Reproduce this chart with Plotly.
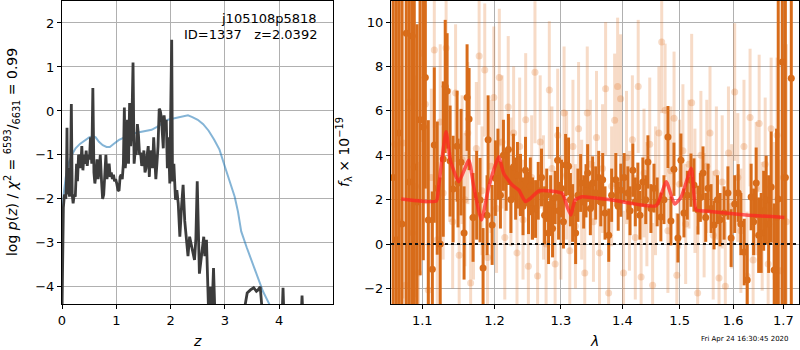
import plotly.graph_objects as go

# ---------------- left panel: p(z) ----------------
z_pz = [0.000,0.010,0.025,0.045,0.070,0.082,0.092,0.102,0.118,0.138,0.155,0.172,0.188,0.205,0.225,0.245,0.268,0.285,0.305,0.325,
        0.345,0.365,0.385,0.405,0.425,0.445,0.465,0.485,0.505,0.525,0.548,0.568,0.588,0.605,0.625,0.645,0.665,0.685,0.705,0.728,
        0.748,0.768,0.788,0.808,0.828,0.848,0.868,0.888,0.908,0.928,0.948,0.968,0.988,1.008,1.03,1.05,1.07,1.09,1.11,1.13,
        1.148,1.165,1.185,1.205,1.225,1.245,1.265,1.285,1.308,1.328,1.348,1.368,1.388,1.408,1.428,1.448,1.468,1.488,1.508,1.528,
        1.548,1.568,1.588,1.608,1.628,1.648,1.668,1.688,1.708,1.728,1.748,1.768,1.79,1.81,1.83,1.85,1.865,1.88,1.90,1.92,
        1.94,1.96,1.985,2.005,2.02,2.035,2.06,2.09,2.115,2.14,2.17,2.20,2.23,2.26,2.29,2.32,2.35,2.39,2.44,2.465,
        2.49,2.53,2.57,2.61,2.63,2.66,2.70,2.73,2.76,2.79,2.82,2.9,3.1,3.3,3.36,3.41,3.47,3.53,3.58,3.61,
        3.65,3.69,3.8,4.0,4.055,4.07,4.085,4.2,4.4,4.42,4.44,4.6]
logp = [-4.6,-3.0,-2.2,-1.9,-2.0,-1.6,-0.38,-1.9,-1.3,-1.95,-1.5,0.16,-1.9,-2.1,-1.9,-1.95,-1.2,-1.6,-1.0,-1.05,
        -1.3,-0.8,-1.35,-1.0,-1.2,-0.9,-1.25,-1.0,-1.1,-0.6,-1.2,0.52,-1.4,-1.65,-1.45,-1.1,-1.55,-1.35,-1.0,-1.6,
        -2.0,-1.9,-1.5,-1.0,-1.55,-1.3,-1.2,-1.5,-1.4,-1.55,-1.45,-1.6,-1.55,-1.65,-1.8,-1.82,-1.5,-1.45,-1.55,-1.2,
        0.08,-1.3,-1.0,-0.2,-1.2,0.18,-0.8,-0.4,1.1,-1.2,-0.9,-1.0,-0.3,-0.55,-1.0,-0.95,-1.25,-1.1,-0.9,-1.4,
        -1.3,-1.0,-0.8,-1.5,-0.9,-1.1,-1.3,-0.6,-1.0,-1.55,-1.2,-0.8,0.05,0.0,-0.15,-0.7,-0.85,-0.1,-0.35,-0.2,
        -1.3,-0.6,-1.65,0.3,1.62,-1.6,-1.2,-2.02,-1.8,-2.1,-2.86,-2.2,-1.68,-2.5,-2.9,-3.3,-2.86,-3.1,-3.39,-2.9,
        -1.6,-3.7,-3.2,-2.86,-3.3,-2.93,-4.6,-4.0,-4.6,-3.57,-4.8,-5.2,-5.5,-5.0,-4.5,-4.14,-4.07,-4.02,-4.1,-4.07,
        -4.0,-4.6,-5.2,-5.0,-4.6,-4.02,-4.6,-5.0,-4.8,-4.2,-4.8,-5.5]

z_prior = [0.0,0.03,0.07,0.12,0.18,0.25,0.33,0.42,0.5,0.57,0.62,0.68,0.75,0.82,0.88,0.95,1.05,1.15,1.25,1.35,
           1.45,1.55,1.65,1.75,1.85,1.95,2.05,2.15,2.25,2.32,2.4,2.5,2.6,2.7,2.8,2.9,3.0,3.1,3.18,3.24,
           3.3,3.4,3.5,3.6,3.7,3.82,3.9]
logp_prior = [-2.5,-1.9,-1.5,-1.2,-1.0,-0.85,-0.75,-0.68,-0.6,-0.57,-0.6,-0.7,-0.78,-0.82,-0.82,-0.75,-0.66,-0.6,-0.54,-0.5,
              -0.48,-0.46,-0.43,-0.36,-0.28,-0.2,-0.17,-0.14,-0.11,-0.1,-0.14,-0.2,-0.3,-0.45,-0.65,-0.88,-1.27,-1.62,-1.95,-2.29,
              -2.74,-3.1,-3.45,-3.8,-4.1,-4.4,-4.65]

# ---------------- right panel: spectrum ----------------
lam_dark = [1.062,1.066,1.0695,1.0733,1.079,1.0829,1.0868,1.0894,1.093,1.097,1.1013,1.1040,1.1080,1.1134,1.1160,1.1200,1.1240,1.1281,1.1308,1.1334,
            1.1375,1.1416,1.1471,1.1484,1.1526,1.1568,1.1610,1.1638,1.1694,1.1745,1.1793,1.1836,1.1893,1.1908,1.1966,1.2013,1.2050,1.2086,1.2130,1.2170,
            1.2203,1.2240,1.2277,1.2310,1.2337,1.2382,1.2420,1.2457,1.2502,1.2530,1.2563,1.2609,1.2650,1.2700,1.2747,1.2780,1.2808,1.2840,1.2870,1.2910,
            1.2948,1.2964,1.3010,1.3040,1.3074,1.3121,1.3150,1.3185,1.3233,1.3270,1.3313,1.3362,1.3400,1.3426,1.3470,1.3507,1.3557,1.3606,1.3640,1.3672,
            1.3710,1.3772,1.3820,1.3890,1.3930,1.3973,1.4030,1.4093,1.4130,1.4178,1.4220,1.4264,1.4300,1.4350,1.4400,1.4438,1.4490,1.4544,1.4600,1.4665,
            1.4720,1.4791,1.4844,1.4898,1.4970,1.5024,1.5079,1.5140,1.5207,1.5262,1.5336,1.5380,1.5429,1.5480,1.5523,1.5580,1.5636,1.5700,1.5750,1.5827,
            1.5900,1.5961,1.6030,1.6098,1.6150,1.6215,1.6274,1.6351,1.6400,1.6451,1.6500,1.6550,1.6600,1.6650,1.6700,1.6751,1.6812,1.6860,1.6894,1.6976,
            1.7040,1.7162]
f_dark = [3.0,0.2,5.0,0.9,9.5,2.8,9.37,3.47,1.9,5.6,5.27,7.5,1.08,-1.13,4.46,2.52,0.0,3.83,7.1,6.9,
          3.74,2.48,4.41,2.75,3.69,0.5,6.6,5.63,1.2,2.2,1.98,-1.08,1.3,4.7,0.86,2.97,3.6,2.2,4.0,2.9,
          4.26,2.0,3.47,2.5,3.1,2.66,1.7,3.33,1.85,2.6,1.6,1.58,2.4,3.0,1.3,2.2,0.5,1.8,0.7,2.1,
          3.78,1.5,2.5,1.0,3.56,3.5,2.0,1.4,0.5,2.2,2.75,1.9,2.4,3.2,1.6,2.75,2.3,3.0,1.9,2.9,
          1.4,0.4,2.2,2.9,1.7,2.43,3.0,2.3,1.5,3.33,1.9,2.57,1.3,2.8,2.0,3.7,1.6,2.52,1.9,1.22,
          2.0,4.82,1.04,3.37,0.27,3.78,1.4,2.2,2.88,2.66,1.53,2.1,3.2,1.2,2.52,1.6,0.86,2.0,1.1,1.4,
          2.3,0.27,1.8,2.3,0.9,-0.36,-1.62,2.12,1.0,2.75,0.4,0.5,1.5,1.98,0.9,2.57,-1.17,1.2,2.03,8.2,
          3.0,7.47]
e_dark = [25,25,25,25,20,20,15,15,8,7,6,5,4.5,3.5,3.5,3,3,3.5,3,2.6,
          2.5,2.4,2.5,2.0,2.4,2.1,2.4,2.3,2.0,2.0,1.9,1.8,1.8,2.0,1.8,1.7,1.6,1.5,1.6,1.4,
          1.6,1.5,1.5,1.4,1.5,1.4,1.3,1.5,1.4,1.3,1.4,1.3,1.3,1.3,1.3,1.2,1.4,1.3,1.3,1.2,
          1.5,1.3,1.3,1.2,1.4,1.3,1.2,1.3,1.4,1.2,1.3,1.2,1.2,1.3,1.2,1.2,1.2,1.2,1.1,1.2,
          1.2,1.2,1.2,1.2,1.1,1.2,1.1,1.2,1.1,1.2,1.1,1.1,1.1,1.1,1.1,1.2,1.1,1.1,1.1,1.1,
          1.1,1.4,1.1,1.2,1.1,1.2,1.1,1.1,1.2,1.2,1.1,1.1,1.2,1.1,1.1,1.1,1.1,1.1,1.2,1.2,
          1.2,1.3,1.3,1.3,1.4,1.5,1.6,1.5,1.5,1.6,1.7,1.8,1.8,2.0,2.2,2.5,3.0,4,10,25,
          25,25]

lam_light = [1.064,1.070,1.0745,1.078,1.083,1.087,1.091,1.095,1.100,1.104,1.108,1.112,1.116,1.120,1.124,1.128,1.132,1.137,1.141,1.145,
             1.150,1.154,1.158,1.162,1.166,1.170,1.174,1.178,1.182,1.186,1.190,1.195,1.199,1.203,1.207,1.211,1.215,1.220,1.224,1.228,
             1.233,1.237,1.242,1.246,1.250,1.255,1.260,1.264,1.268,1.273,1.277,1.282,1.286,1.291,1.295,1.300,1.305,1.309,1.314,1.319,
             1.323,1.328,1.333,1.338,1.342,1.347,1.352,1.357,1.362,1.367,1.372,1.377,1.382,1.387,1.392,1.397,1.402,1.407,1.412,1.417,
             1.422,1.427,1.432,1.437,1.442,1.447,1.452,1.457,1.463,1.468,1.474,1.479,1.484,1.490,1.495,1.500,1.506,1.511,1.517,1.522,
             1.528,1.533,1.539,1.545,1.550,1.556,1.562,1.568,1.573,1.579,1.585,1.591,1.597,1.603,1.609,1.615,1.621,1.627,1.633,1.639,
             1.645,1.651,1.657,1.663,1.669,1.675,1.681,1.687,1.694,1.700,1.706]
f_light = [4.5,1.0,4.55,-1.85,6.4,0.5,2.6,-1.3,8.6,6.3,-2.07,3.0,8.74,0.2,5.5,2.3,8.83,4.0,1.0,6.8,
           -0.5,3.8,2.0,5.0,-1.75,1.2,4.3,8.47,2.4,7.84,-0.6,3.5,6.6,1.6,7.5,4.6,0.3,6.17,2.8,5.0,
           -0.4,4.4,1.1,5.6,-1.0,3.0,7.74,-1.44,4.6,2.1,0.0,6.94,3.4,-0.9,4.9,1.2,5.9,3.1,-0.3,4.4,
           0.8,5.2,2.0,-1.3,5.9,3.6,1.0,4.8,-0.4,3.4,7.0,-2.2,2.6,5.58,7.1,6.55,-1.3,3.9,1.5,4.7,
           0.3,7.1,-1.48,3.2,1.8,4.5,-1.85,2.4,5.0,9.1,6.03,0.6,3.3,5.67,-1.4,2.7,4.2,0.9,3.6,6.37,
           2.4,-2.2,4.0,1.3,3.5,5.0,0.4,3.2,-1.53,2.8,-1.9,4.1,1.7,6.85,3.0,0.6,4.4,-1.44,5.7,-0.72,
           2.5,5.43,0.8,3.6,-0.9,5.2,1.5,4.9,-1.2,3.0,1.0]
e_light = [8,7,7,6,6,6,5,5,4,4.5,4,4,3.5,3.5,3.5,3,3.2,3,3,3.1,
           3,2.9,3,3.2,3,2.8,3,3.1,2.9,3,2.8,3,3.2,2.9,3.1,3,2.8,3.2,2.9,3,
           2.8,3.1,2.7,3,2.9,2.8,3.2,2.7,3,2.8,2.9,3.1,2.8,2.7,3,2.8,3,2.9,2.7,3,
           2.8,3,2.7,2.8,3,2.9,2.7,3,2.8,2.9,3,2.8,2.7,3,3.1,2.9,2.8,3,2.7,2.9,
           2.8,3,2.7,2.9,2.8,3,2.8,2.9,3,3.2,3,2.8,2.9,3,2.8,2.9,3,2.7,2.9,3.1,
           2.8,3,2.9,2.8,3,3,2.9,3,2.8,3,2.9,3,2.8,3.1,2.9,2.8,3,2.9,3.1,2.9,
           3,3.1,2.9,3,3,3.2,3.1,3.5,5,6,8]

lam_model = [1.0724,1.097,1.1188,1.1218,1.132,1.1378,1.1494,1.1634,1.1704,1.1813,1.1918,1.2062,1.2135,1.2259,1.2357,1.2456,
             1.2533,1.2658,1.2830,1.302,1.3099,1.3158,1.3223,1.3338,1.3832,1.458,1.476,1.491,1.503,1.5213,1.5304,1.5458,1.6247,1.702]
f_model = [2.03,1.94,1.94,2.58,5.06,3.78,2.81,3.78,2.58,1.08,2.58,3.93,3.18,2.66,2.43,1.91,
           2.06,2.39,2.39,2.28,1.68,1.31,1.98,2.13,1.98,1.73,2.81,1.80,2.13,3.41,1.53,1.49,1.31,1.20]

x_ticks_lam = [1.1, 1.2, 1.3, 1.4, 1.5, 1.6, 1.7]
x_ticks_z = [0, 1, 2, 3, 4]

DARK = "rgb(216,108,26)"
LIGHT = "rgba(222,112,30,0.25)"
FONT = "DejaVu Sans"

fig = go.Figure()
fig.add_trace(go.Scatter(x=z_prior, y=logp_prior, mode="lines",
                         line=dict(color="rgba(31,119,180,0.55)", width=2), xaxis="x", yaxis="y"))
fig.add_trace(go.Scatter(x=z_pz, y=logp, mode="lines",
                         line=dict(color="#3c3c3c", width=2.8), xaxis="x", yaxis="y"))

fig.add_trace(go.Scatter(x=lam_light, y=f_light, mode="markers",
                         marker=dict(color=LIGHT, size=7),
                         error_y=dict(type="data", array=e_light, color=LIGHT, thickness=3, width=0),
                         xaxis="x2", yaxis="y2"))
fig.add_trace(go.Scatter(x=lam_dark, y=f_dark, mode="markers",
                         marker=dict(color=DARK, size=7),
                         error_y=dict(type="data", array=e_dark, color=DARK, thickness=3, width=0),
                         xaxis="x2", yaxis="y2"))
fig.add_trace(go.Scatter(x=lam_model, y=f_model, mode="lines",
                         line=dict(color="rgba(255,35,35,0.72)", width=3.5, shape="spline", smoothing=0.5),
                         xaxis="x2", yaxis="y2"))

axis_common = dict(showline=True, linecolor="black", linewidth=1, mirror=True,
                   ticks="outside", ticklen=4, tickwidth=1, tickcolor="black",
                   showgrid=True, gridcolor="#b0b0b0", gridwidth=1, zeroline=False,
                   tickfont=dict(family=FONT, size=13, color="black"))

fig.update_layout(
    width=800, height=350,
    margin=dict(l=62, r=1, t=1, b=46),
    plot_bgcolor="white", paper_bgcolor="white",
    showlegend=False,
    font=dict(family=FONT, color="black"),
    xaxis=dict(domain=[0, 0.3677], range=[0, 4.99], tickvals=x_ticks_z, anchor="y", **axis_common),
    yaxis=dict(domain=[0, 1], range=[-4.39, 2.5], tickvals=[-4, -3, -2, -1, 0, 1, 2], anchor="x", **axis_common),
    xaxis2=dict(domain=[0.4464, 1], type="log", range=[0.0250, 0.2386], tickvals=x_ticks_lam,
                ticktext=[str(v) for v in x_ticks_lam], anchor="y2", **axis_common),
    yaxis2=dict(domain=[0, 1], range=[-2.7, 10.95], tickvals=[-2, 0, 2, 4, 6, 8, 10], anchor="x2", **axis_common),
)

fig.add_shape(type="line", xref="x2 domain", yref="y2", x0=0, x1=1, y0=0, y1=0,
              line=dict(color="#111111", width=2, dash="dot"))

ann = [
    dict(text="j105108p5818", x=0.3487, y=0.9406, xanchor="right", yanchor="middle", size=13),
    dict(text="ID=1337\u00a0\u00a0\u00a0z=2.0392", x=0.3487, y=0.8878, xanchor="right", yanchor="middle", size=13),
    dict(text="<i>z</i>", x=0.1832, y=-0.122, xanchor="center", yanchor="middle", size=14),
    dict(text="<i>λ</i>", x=0.7232, y=-0.122, xanchor="center", yanchor="middle", size=14),
    dict(text="Fri Apr 24 16:30:45 2020", x=0.9267, y=-0.1155, xanchor="center", yanchor="middle", size=7),
]
for a in ann:
    fig.add_annotation(text=a["text"], x=a["x"], y=a["y"], xref="paper", yref="paper",
                       xanchor=a["xanchor"], yanchor=a["yanchor"], showarrow=False,
                       font=dict(family=FONT, size=a["size"], color="black"))

fig.add_annotation(text="log <i>p</i>(<i>z</i>) / <i>χ</i><sup>2</sup> = <sup>6593</sup>/<sub>6631</sub> = 0.99",
                   x=-0.0678, y=0.5017, xref="paper", yref="paper", textangle=-90,
                   xanchor="center", yanchor="middle", showarrow=False,
                   font=dict(family=FONT, size=14, color="black"))
fig.add_annotation(text="<i>f</i><sub>λ</sub> × 10<sup>−19</sup>",
                   x=0.3826, y=0.5017, xref="paper", yref="paper", textangle=-90,
                   xanchor="center", yanchor="middle", showarrow=False,
                   font=dict(family=FONT, size=14, color="black"))

fig.write_html("out.html", config={"displayModeBar": False},
               post_script="document.body.style.margin='0';document.body.style.padding='0';")
